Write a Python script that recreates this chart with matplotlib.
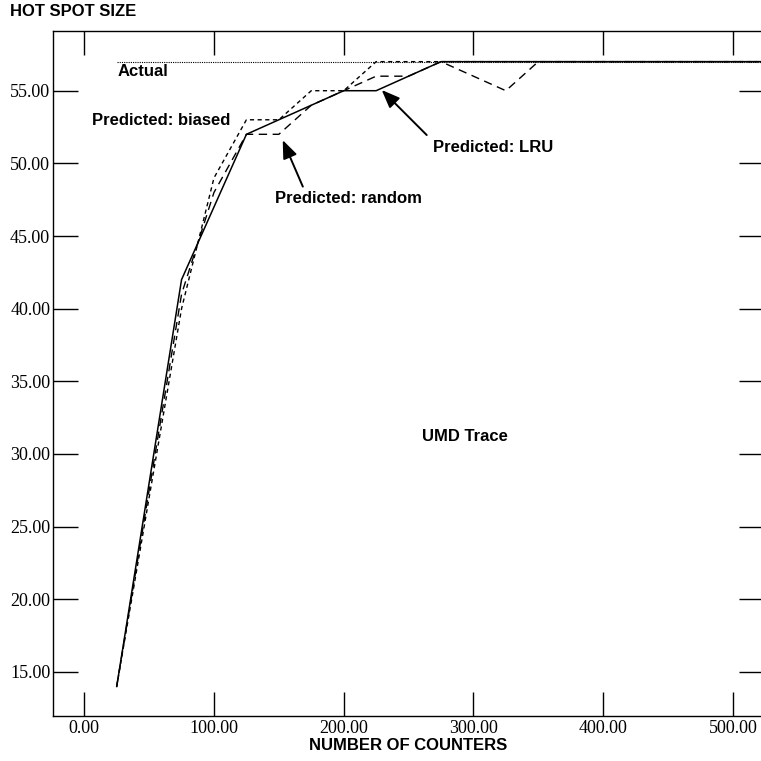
import matplotlib
matplotlib.use("Agg")
import matplotlib.pyplot as plt

# Hot spot size vs. number of counters (UMD trace)
counters = [25, 75, 100, 125, 150, 175, 200, 225, 250, 275, 300, 325, 350, 400, 450, 500, 525]
lru      = [14, 42, 47, 52, 53, 54, 55, 55, 56, 57, 57, 57, 57, 57, 57, 57, 57]
random_  = [14, 41, 48, 52, 52, 54, 55, 56, 56, 57, 56, 55, 57, 57, 57, 57, 57]
biased   = [14, 40, 49, 53, 53, 55, 55, 57, 57, 57, 57, 57, 57, 57, 57, 57, 57]
actual_x = [25, 525]
actual_y = [57, 57]

x_ticks = [0, 100, 200, 300, 400, 500]
y_ticks = [15, 20, 25, 30, 35, 40, 45, 50, 55]

fig = plt.figure(figsize=(7.61, 7.61), dpi=100)
ax = fig.add_axes([53 / 761, 1 - 716 / 761, (764 - 53) / 761, (716 - 30.7) / 761])

ax.plot(actual_x, actual_y, color="black", lw=0.8, linestyle=(0, (1, 1)))
ax.plot(counters, biased, color="black", lw=1.0, linestyle=(0, (3, 2.5)))
ax.plot(counters, random_, color="black", lw=1.0, linestyle=(0, (6, 4)))
ax.plot(counters, lru, color="black", lw=1.1, linestyle="-")

ax.set_xlim(-24.1, 524)
ax.set_ylim(11.97, 59.13)

ax.set_xticks(x_ticks)
ax.set_xticklabels([f"{v:.2f}" for v in x_ticks])
ax.set_yticks(y_ticks)
ax.set_yticklabels([f"{v:.2f}" for v in y_ticks])

serif = ["Liberation Serif", "DejaVu Serif"]
for lab in ax.get_xticklabels() + ax.get_yticklabels():
    lab.set_family(serif)
    lab.set_fontsize(13)

ax.tick_params(axis="x", which="both", direction="in", length=17, width=1,
               top=True, bottom=True, pad=3)
ax.tick_params(axis="y", which="both", direction="in", length=18, width=1,
               left=True, right=True, pad=2)
for s in ax.spines.values():
    s.set_linewidth(1)

bold = dict(family=["Liberation Sans", "DejaVu Sans"], fontweight="bold", fontsize=12)

ax.text(25.3, 56.29, "Actual", ha="left", va="center", **bold)
ax.text(6.0, 52.98, "Predicted: biased", ha="left", va="center", **bold)
ax.text(147, 47.6, "Predicted: random", ha="left", va="center", **bold)
ax.text(268.6, 51.06, "Predicted: LRU", ha="left", va="center", **bold)
ax.text(293.5, 31.2, "UMD Trace", ha="center", va="center", **bold)

arrow = dict(arrowstyle="-|>,head_length=0.55,head_width=0.22", color="black",
             lw=1.4, shrinkA=0, shrinkB=0, mutation_scale=20)
ax.annotate("", xy=(153, 51.6), xytext=(168.5, 48.4), arrowprops=arrow)
ax.annotate("", xy=(229.3, 55.05), xytext=(264, 51.95), arrowprops=arrow)

fig.text(10 / 761, 1 - 11 / 761, "HOT SPOT SIZE", ha="left", va="center", **bold)
fig.text(408 / 761, 1 - 745 / 761, "NUMBER OF COUNTERS", ha="center", va="center", **bold)

fig.savefig("out.png", dpi=100)
